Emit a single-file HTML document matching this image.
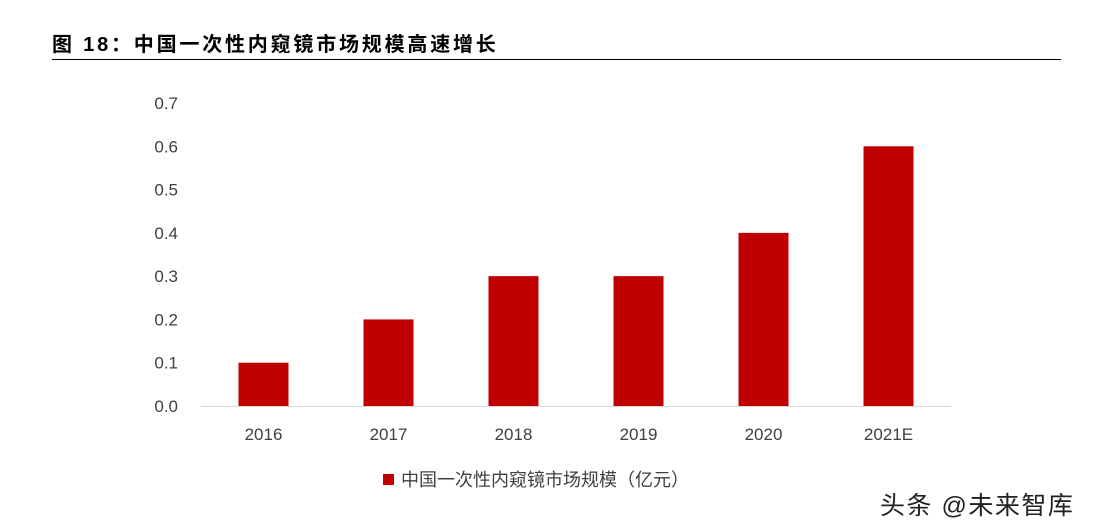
<!DOCTYPE html>
<html><head><meta charset="utf-8">
<style>
html,body{margin:0;padding:0;background:#fff;}
body{width:1099px;height:532px;position:relative;overflow:hidden;font-family:"Liberation Sans","Noto Sans CJK SC",sans-serif;}
#title{position:absolute;left:52px;top:28px;font-size:20px;font-weight:bold;color:#000;letter-spacing:2.8px;}
#rule{position:absolute;left:52px;top:59px;width:1009px;height:1px;background:#000;}
#wm{position:absolute;left:880px;top:486px;font-size:25px;color:#222;letter-spacing:1.5px;}
</style></head><body>
<div id="title">图 18：中国一次性内窥镜市场规模高速增长</div>
<div id="rule"></div>
<svg id="chart" width="1099" height="532" style="position:absolute;left:0;top:0"></svg>
<div id="wm">头条 @未来智库</div>
<script>
const categories=["2016","2017","2018","2019","2020","2021E"];
const values=[0.1,0.2,0.3,0.3,0.4,0.6];
const yTicks=[0,0.1,0.2,0.3,0.4,0.5,0.6,0.7];
const yTickLabels=["0.0","0.1","0.2","0.3","0.4","0.5","0.6","0.7"];
const seriesName="中国一次性内窥镜市场规模（亿元）";

const NS="http://www.w3.org/2000/svg";
const svg=document.getElementById('chart');
const x0=201,x1=951,yBase=406,yTop=103,yMax=0.7;
const y=v=>yBase-(v/yMax)*(yBase-yTop);
const band=(x1-x0)/categories.length;
const xc=i=>x0+band*(i+0.5);
function mk(t,a){const e=document.createElementNS(NS,t);for(const k in a)e.setAttribute(k,a[k]);svg.appendChild(e);return e;}
yTicks.forEach((t,i)=>{
  const e=mk('text',{x:178,y:y(t)+6,'text-anchor':'end','font-size':17,fill:'#404040','font-family':'Liberation Sans, sans-serif'});
  e.textContent=yTickLabels[i];
  
  
});
const ax=mk('line',{x1:x0,x2:x1,y1:yBase+0.5,y2:yBase+0.5,stroke:'#d9d9d9','stroke-width':1});


categories.forEach((c,i)=>{
  const b=mk('rect',{x:xc(i)-25,y:y(values[i]),width:50,height:yBase-y(values[i]),fill:'#c00000'});
  
  
  const t=mk('text',{x:xc(i),y:440,'text-anchor':'middle','font-size':17,fill:'#404040','font-family':'Liberation Sans, sans-serif'});
  t.textContent=c;
  
  
});
const ls=mk('rect',{x:383,y:474,width:11,height:11,fill:'#c00000'});


const lt=mk('text',{x:401,y:486,'font-size':18,fill:'#404040','font-family':'Liberation Sans, Noto Sans CJK SC, sans-serif'});
lt.textContent=seriesName;


</script>
</body></html>
